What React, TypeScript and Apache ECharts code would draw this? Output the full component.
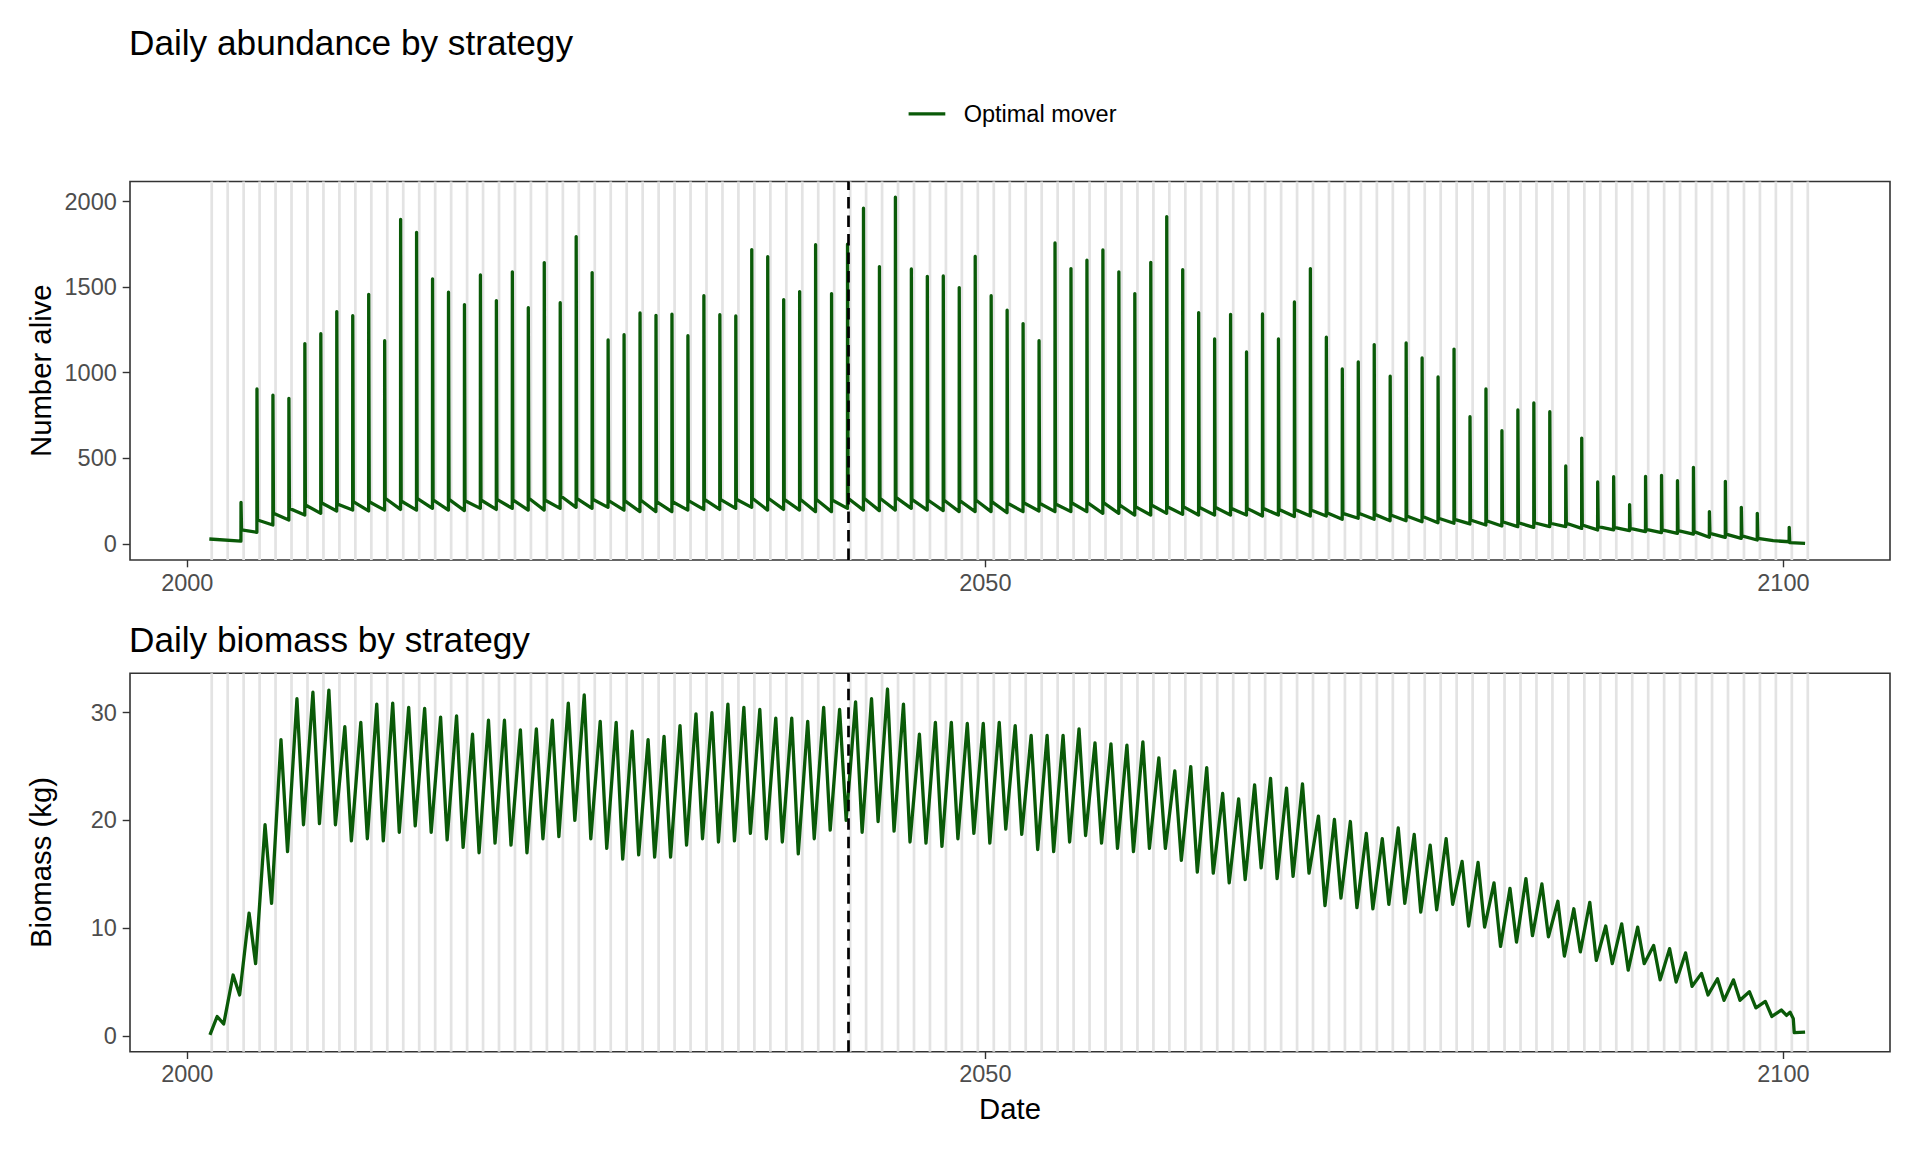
import React, { useEffect, useRef } from "react";
import * as echarts from "echarts";

// ---------------- data ----------------
// Abundance: one recruitment spike per year (spike years 2003..2100)
const spikeYears: number[] = Array.from({ length: 98 }, (_, i) => 2003 + i);

// value at the top of each yearly spike (null = no spike that year)
const abundancePeak: (number | null)[] = [
  242, 905, 868, 850, 1170, 1228, 1357, 1333, 1458, 1187,
  1896, 1820, 1548, 1470, 1398, 1571, 1421, 1589, 1380, 1643,
  1409, 1795, 1585, 1191, 1222, 1349, 1335, 1342, 1216, 1450,
  1339, 1331, 1719, 1678, 1427, 1474, 1748, 1462, 1751, 1961,
  1620, 2025, 1606, 1563, 1565, 1497, 1680, 1450, 1365, 1287,
  1187, 1758, 1608, 1657, 1717, 1589, 1462, 1645, 1912, 1602,
  1351, 1197, 1341, 1121, 1343, 1197, 1413, 1608, 1207, 1022,
  1063, 1164, 979, 1174, 1086, 975, 1138, 743, 905, 661,
  782, 823, 772, 455, 618, 361, 392, 229, 394, 400,
  369, 447, 188, 365, 213, 178, null, 96,
];

// level the population settles at right after the spike
const abundancePost: (number | null)[] = [
  81, 139, 178, 207, 227, 240, 233, 246, 246, 266,
  250, 266, 256, 260, 252, 256, 260, 256, 266, 256,
  279, 266, 260, 252, 252, 256, 246, 246, 252, 260,
  260, 260, 266, 266, 260, 260, 260, 256, 266, 266,
  266, 271, 260, 256, 256, 252, 256, 246, 237, 240,
  237, 233, 240, 240, 240, 227, 217, 227, 217, 217,
  213, 213, 207, 207, 207, 201, 201, 197, 182, 178,
  178, 172, 168, 162, 159, 149, 143, 139, 135, 129,
  123, 123, 120, 120, 110, 100, 96, 90, 84, 81,
  77, 71, 61, 57, 46, 32, null, 7,
];

// level just before each spike
const abundanceTrough: number[] = [
  16, 67, 110, 139, 168, 178, 192, 197, 192, 197,
  201, 197, 207, 197, 194, 207, 201, 207, 197, 197,
  207, 213, 207, 213, 197, 188, 188, 188, 197, 201,
  201, 207, 213, 197, 201, 197, 188, 188, 207, 197,
  194, 197, 207, 197, 194, 188, 188, 188, 182, 188,
  192, 188, 188, 188, 178, 178, 168, 168, 178, 172,
  168, 168, 168, 168, 162, 168, 159, 162, 162, 143,
  149, 143, 135, 135, 129, 123, 120, 116, 110, 104,
  100, 96, 100, 100, 90, 81, 81, 77, 71, 65,
  61, 57, 38, 38, 32, 22, 18, 12,
];

const abundanceStartDate = 2001.38;
const abundanceStartValue = 28;
const abundanceEndDate = 2101.36;
const abundanceEndValue = 3;

// Biomass: yearly maximum (2001..2099) and minimum (2002..2099)
const biomassYears: number[] = Array.from({ length: 99 }, (_, i) => 2001 + i);

const biomassPeak: number[] = [
  1.8, 5.65, 11.4, 19.6, 27.5, 31.3, 31.9, 32.1, 28.7, 29.1,
  30.8, 30.9, 30.5, 30.4, 29.6, 29.7, 28.0, 29.3, 29.3, 28.4,
  28.5, 29.3, 30.9, 31.65, 29.2, 29.1, 28.3, 27.5, 27.8, 28.8,
  29.9, 30.0, 30.8, 30.5, 30.3, 29.5, 29.5, 29.2, 30.5, 30.3,
  31.0, 31.3, 32.2, 30.8, 28.0, 29.1, 29.1, 29.0, 29.0, 29.1,
  28.8, 27.9, 27.9, 27.9, 28.5, 27.2, 27.1, 27.0, 27.3, 25.8,
  24.6, 25.0, 24.9, 22.5, 22.0, 23.3, 23.9, 23.0, 23.4, 20.4,
  20.1, 19.9, 18.8, 18.3, 19.3, 18.7, 17.7, 18.3, 16.2, 16.1,
  14.2, 13.7, 14.6, 14.1, 12.5, 11.8, 12.4, 10.2, 10.4, 10.1,
  8.4, 8.1, 7.7, 5.8, 5.3, 5.2, 4.1, 3.2, 2.4,
];

const biomassTrough: number[] = [
  1.1, 3.8, 6.7, 12.3, 17.1, 19.6, 19.7, 19.6, 18.1, 18.3,
  18.1, 18.9, 19.5, 18.9, 18.2, 17.5, 17.0, 17.9, 17.7, 17.0,
  18.3, 18.5, 20.0, 18.3, 17.4, 16.4, 16.8, 16.6, 16.6, 17.7,
  18.3, 18.0, 18.1, 18.8, 18.3, 18.0, 16.9, 18.3, 19.1, 20.0,
  18.9, 19.9, 19.0, 18.0, 17.9, 17.6, 18.3, 18.8, 17.9, 19.2,
  18.7, 17.3, 17.1, 18.0, 18.6, 17.9, 17.4, 17.1, 17.4, 17.4,
  16.3, 15.2, 15.1, 14.2, 14.5, 15.6, 14.6, 14.8, 15.1, 12.1,
  12.8, 11.9, 11.8, 12.2, 12.3, 11.5, 11.7, 12.2, 10.2, 10.1,
  8.3, 8.7, 9.3, 9.2, 7.4, 7.8, 7.0, 6.7, 6.1, 6.7,
  5.2, 5.0, 4.6, 3.8, 3.3, 3.3, 2.6, 1.8,
];

const biomassStartDate = 2001.42;
const biomassStartValue = 0.1;
const biomassTailDates = [2100.2, 2100.42, 2100.62, 2100.68, 2101.36];
const biomassTailValues = [1.9, 2.2, 1.6, 0.3, 0.35];

// grey annual periods and reference date
const bandYears: number[] = Array.from({ length: 101 }, (_, i) => 2001 + i);
const referenceDate = 2041.38;

// tick labels
const xTicks = [2000, 2050, 2100];
const abundanceTicks = [0, 500, 1000, 1500, 2000];
const biomassTicks = [0, 10, 20, 30];

// ---------------- timing within a year ----------------
const TROUGH_AT = 0.36;
const SPIKE_AT = 0.365;
const POST_AT = 0.4;
const BIO_PEAK_AT = 0.87;
const BIO_TROUGH_AT = 0.28;
const BAND_FROM = 0.445;
const BAND_TO = 0.615;

// ---------------- build series ----------------
const abundanceData: [number, number][] = [[abundanceStartDate, abundanceStartValue]];
spikeYears.forEach((y, i) => {
  abundanceData.push([y + TROUGH_AT, abundanceTrough[i]]);
  const p = abundancePeak[i];
  const q = abundancePost[i];
  if (p != null && q != null) {
    abundanceData.push([y + SPIKE_AT, p]);
    abundanceData.push([y + POST_AT, q]);
  }
});
abundanceData.push([abundanceEndDate, abundanceEndValue]);

const biomassData: [number, number][] = [[biomassStartDate, biomassStartValue]];
biomassYears.forEach((y, i) => {
  biomassData.push([y + BIO_PEAK_AT, biomassPeak[i]]);
  if (i < biomassTrough.length) biomassData.push([y + 1 + BIO_TROUGH_AT, biomassTrough[i]]);
});
biomassTailDates.forEach((d, i) => biomassData.push([d, biomassTailValues[i]]));

const bandAreas = bandYears.map((y) => [{ xAxis: y + BAND_FROM }, { xAxis: y + BAND_TO }]);

// ---------------- styling ----------------
const FONT = "'Liberation Sans', Arial, Helvetica, sans-serif";
const GREEN = "#0a5a08";
const X_MIN = 1996.41;
const X_MAX = 2106.68;

const xAxis = (gridIndex: number) => ({
  type: "value",
  gridIndex,
  min: X_MIN,
  max: X_MAX,
  axisLine: { show: false, onZero: false },
  splitLine: { show: false },
  axisTick: {
    show: true,
    length: 7.3,
    customValues: xTicks,
    lineStyle: { color: "#333333", width: 1.4 },
  },
  axisLabel: {
    customValues: xTicks,
    formatter: (v: number) => String(v),
    fontSize: 23.5,
    fontFamily: FONT,
    color: "#4d4d4d",
    margin: 10.5,
  },
});

const yAxis = (gridIndex: number, min: number, max: number, ticks: number[]) => ({
  type: "value",
  gridIndex,
  min,
  max,
  axisLine: { show: false, onZero: false },
  splitLine: { show: false },
  axisTick: {
    show: true,
    length: 7.3,
    customValues: ticks,
    lineStyle: { color: "#333333", width: 1.4 },
  },
  axisLabel: {
    customValues: ticks,
    formatter: (v: number) => String(v),
    fontSize: 23.5,
    fontFamily: FONT,
    color: "#4d4d4d",
    margin: 13.2,
  },
});

const backdrop = (idx: number) => ({
  type: "line",
  name: "backdrop" + idx,
  xAxisIndex: idx,
  yAxisIndex: idx,
  data: [],
  silent: true,
  z: 1,
  markArea: {
    silent: true,
    itemStyle: { color: "#e3e3e3" },
    data: bandAreas,
  },
  markLine: {
    silent: true,
    symbol: ["none", "none"],
    label: { show: false },
    lineStyle: { color: "#000000", width: 2.7, type: [11.5, 7] },
    data: [{ xAxis: referenceDate }],
  },
});

const mainLine = (idx: number, data: [number, number][]) => ({
  type: "line",
  name: "Optimal mover",
  xAxisIndex: idx,
  yAxisIndex: idx,
  data,
  showSymbol: false,
  symbol: "none",
  silent: true,
  z: 3,
  lineStyle: { color: GREEN, width: 3.3, join: "round" },
  itemStyle: { color: GREEN },
});

const textEl = (text: string, x: number, y: number, fontSize: number, extra: any = {}) => ({
  type: "text",
  x,
  y,
  silent: true,
  ...extra,
  style: {
    text,
    fontSize,
    fontFamily: FONT,
    fill: "#000000",
    align: extra.align || "left",
    verticalAlign: "middle",
  },
});

const option: any = {
  animation: false,
  backgroundColor: "#ffffff",
  grid: [
    { left: 130, top: 181.5, width: 1760, height: 378.5, show: true, borderColor: "#333333", borderWidth: 1.6 },
    { left: 130, top: 673.3, width: 1760, height: 378.4, show: true, borderColor: "#333333", borderWidth: 1.6 },
  ],
  xAxis: [xAxis(0), xAxis(1)],
  yAxis: [yAxis(0, -94.7, 2117, abundanceTicks), yAxis(1, -1.47, 33.66, biomassTicks)],
  series: [backdrop(0), backdrop(1), mainLine(0, abundanceData), mainLine(1, biomassData)],
  graphic: [
    textEl("Daily abundance by strategy", 129, 42.3, 35.2),
    textEl("Daily biomass by strategy", 129, 639.3, 35.2),
    {
      type: "line",
      silent: true,
      shape: { x1: 908.6, y1: 113.9, x2: 945.3, y2: 113.9 },
      style: { stroke: GREEN, lineWidth: 3.3 },
    },
    textEl("Optimal mover", 963.7, 113.9, 23.5),
    textEl("Number alive", 40.4, 370.7, 29.3, { rotation: Math.PI / 2, align: "center" }),
    textEl("Biomass (kg)", 40.4, 862.5, 29.3, { rotation: Math.PI / 2, align: "center" }),
    textEl("Date", 1010, 1108, 29.3, { align: "center" }),
  ],
};

export default function App() {
  const ref = useRef<HTMLDivElement>(null);
  useEffect(() => {
    if (!ref.current) return;
    const chart = echarts.init(ref.current, null, { renderer: "svg" });
    chart.setOption(option);
    return () => chart.dispose();
  }, []);
  return (
    <div
      ref={ref}
      style={{ position: "absolute", left: 0, top: 0, width: 1920, height: 1152, background: "#ffffff" }}
    />
  );
}
